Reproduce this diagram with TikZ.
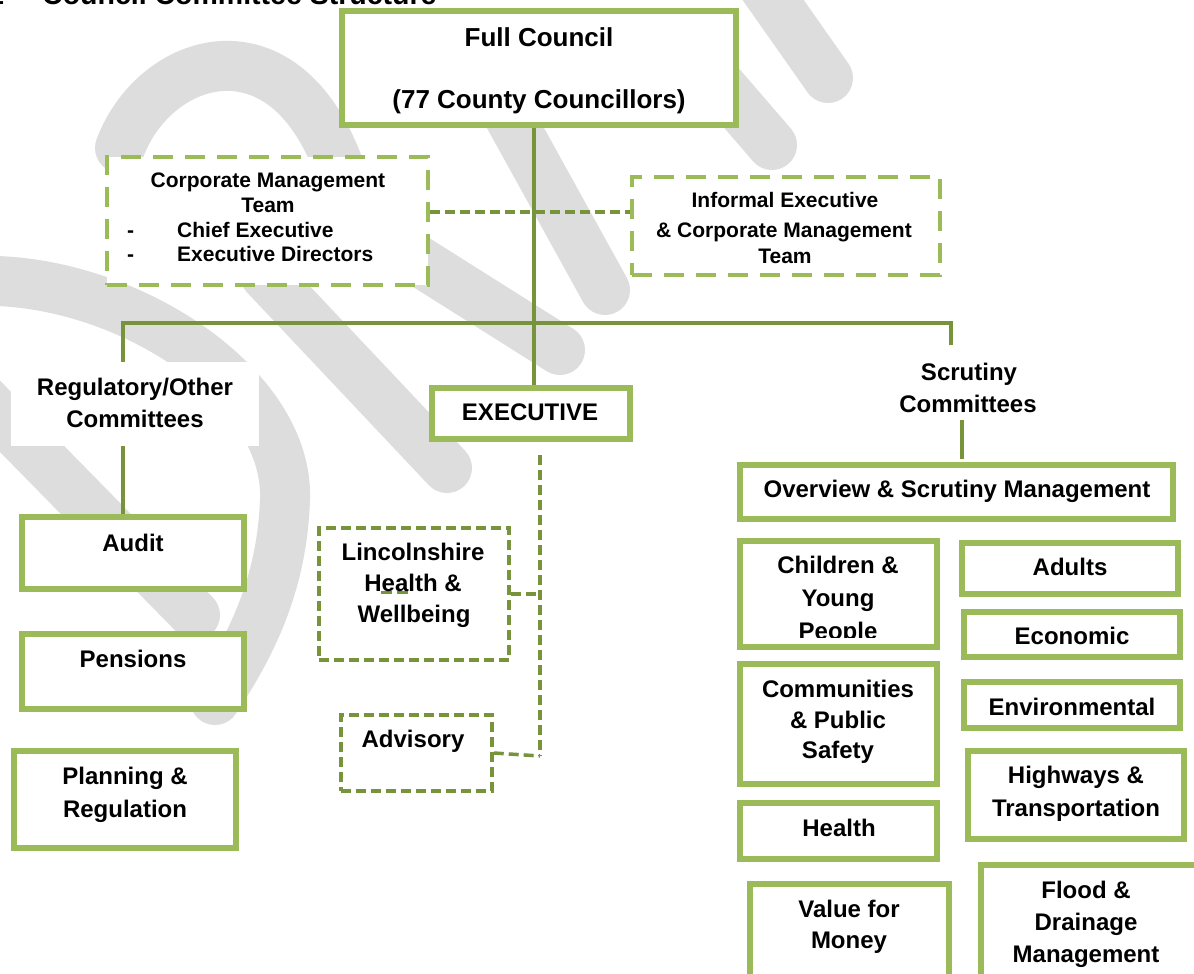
\documentclass[tikz,border=0pt]{standalone}
\usepackage{fontspec}
\setmainfont{Liberation Sans}
\usetikzlibrary{fit}
\definecolor{lg}{RGB}{155,187,89}
\definecolor{dg}{RGB}{119,147,60}
\definecolor{wmc}{RGB}{221,221,221}
\tikzset{
  box/.style={draw=lg, line width=5.5pt, fill=white, inner sep=0pt},
  dbox/.style={draw=lg, line width=4pt, fill=white, inner sep=0pt, dash pattern=on 20pt off 12pt},
  ddbox/.style={draw=dg, line width=3.5pt, fill=white, inner sep=0pt, dash pattern=on 10pt off 5pt},
  conn/.style={draw=dg, line width=4pt},
  dconn/.style={draw=dg, line width=3.5pt, dash pattern=on 10pt off 5pt},
  lbl/.style={anchor=base, inner sep=0pt, font=\fontsize{24}{28}\selectfont\bfseries},
  lbls/.style={lbl, font=\fontsize{21}{25}\selectfont\bfseries},
  lblb/.style={lbl, font=\fontsize{26}{30}\selectfont\bfseries},
  wm/.style={draw=wmc, line width=50pt, line cap=round},
}
\begin{document}
\begin{tikzpicture}[x=1pt,y=-1pt]
\useasboundingbox (0,0) rectangle (1194,974);
\fill[white] (0,0) rectangle (1194,974);
% watermark
\draw[wm] (120,148) .. controls (155,55) and (285,15) .. (340,170) -- (350,210);
\draw[wm] (330,205) -- (560,350);
\draw[wm] (500,100) -- (605,290);
\draw[wm] (265,275) -- (447,468);
\draw[wm] (745,-40) -- (828,78);
\draw[wm] (690,50) -- (772,145);
\draw[wm] (-70,345) -- (195,615);
\draw[wm] (-40,282) .. controls (110,268) and (290,380) .. (285,500) .. controls (282,580) and (255,640) .. (215,700);
% title (cut by the top edge)
\node[anchor=base west, inner sep=0pt, font=\fontsize{28.5}{32}\selectfont\bfseries] (num) at (-12,5) {1};
\node[anchor=base west, inner sep=0pt, font=\fontsize{28.5}{32}\selectfont\bfseries] (title) at (42,5) {Council Committee Structure};
% helper coordinates
\coordinate (jn) at (534,323);
\coordinate (hl) at (123,323);
\coordinate (hr) at (951,323);
\coordinate (sv) at (962,0);
\coordinate (cy) at (0,212);
\coordinate (et) at (540,455);
\coordinate (eb) at (540,756);
% white label area
\node[fill=white, inner sep=0pt, fit={(11,362) (259,446)}] (reg) {};
\node[inner sep=0pt, fit={(900,345) (1036,420)}] (scr) {};
% boxes
\node[box, fit={(342,11) (736,125)}] (fc) {};
\node[dbox, fit={(107,157) (428,285)}] (cmt) {};
\node[dbox, fit={(632,177) (940,275)}] (inf) {};
\node[box, fit={(432,388) (630,439)}] (exec) {};
% connectors
\draw[conn] (fc.south -| jn) -- (exec.north -| jn);
\draw[dconn] (cmt.east |- cy) -- (inf.west |- cy);
\draw[conn] (reg.north -| hl) -- (hl) -- (hr) -- (scr.north -| hr);
\draw[conn] (scr.south -| sv) -- (sv |- 0,459);
\draw[conn] (reg.south -| hl) -- (hl |- 0,517);
\draw[dconn] (et) -- (eb);
% left column
\node[box, fit={(22,517) (244,589)}] (audit) {};
\node[box, fit={(22,634) (244,709)}] (pens) {};
\node[box, fit={(14,751) (236,848)}] (plan) {};
% executive sub
\node[ddbox, fit={(319,528) (509,660)}] (lin) {};
\node[ddbox, fit={(341,715) (492,791)}] (adv) {};
\draw[dconn] (lin.east) -- (lin.east -| eb);
\draw[dconn] (adv.east) -- (eb);
\draw[dg, line width=3pt, dash pattern=on 11pt off 5pt] (381,592) -- (408,592);
% scrutiny
\node[box, fit={(740,465) (1173,519)}] (ovw) {};
\node[box, fit={(740,541) (937,647)}] (cyp) {};
\node[box, fit={(962,543) (1178,594)}] (adults) {};
\node[box, fit={(964,612) (1180,657)}] (econ) {};
\node[box, fit={(740,664) (937,784)}] (comm) {};
\node[box, fit={(964,682) (1180,728)}] (env) {};
\node[box, fit={(968,751) (1184,839)}] (hwy) {};
\node[box, fit={(740,803) (937,859)}] (hlth) {};
\node[box, fit={(750,884) (949,1000)}] (vfm) {};
\node[box, fit={(981,865) (1230,1000)}] (flood) {};
% texts
\node[lblb] (fc1) at (539,47) {Full Council};
\node[lblb] (fc2) at (539,108) {(77 County Councillors)};
\node[lbls] (cmt1) at (268,187) {Corporate Management};
\node[lbls] (cmt2) at (268,212) {Team};
\node[lbls, anchor=base west] (cmt3d) at (127,237) {-};
\node[lbls, anchor=base west] (cmt3) at (177,237) {Chief Executive};
\node[lbls, anchor=base west] (cmt4d) at (127,261) {-};
\node[lbls, anchor=base west] (cmt4) at (177,261) {Executive Directors};
\node[lbls] (inf1) at (785,207) {Informal Executive};
\node[lbls] (inf2) at (784,237) {\& Corporate Management};
\node[lbls] (inf3) at (785,263) {Team};
\node[lbl] (reg1) at (135,395) {Regulatory/Other};
\node[lbl] (reg2) at (135,427) {Committees};
\node[lbl] (exec1) at (530,420) {EXECUTIVE};
\node[lbl] (scr1) at (969,380) {Scrutiny};
\node[lbl] (scr2) at (968,412) {Committees};
\node[lbl] (audit1) at (133,551) {Audit};
\node[lbl] (pens1) at (133,667) {Pensions};
\node[lbl] (plan1) at (125,784) {Planning \&};
\node[lbl] (plan2) at (125,817) {Regulation};
\node[lbl] (lin1) at (413,560) {Lincolnshire};
\node[lbl] (lin2) at (413,591) {Health \&};
\node[lbl] (lin3) at (414,622) {Wellbeing};
\node[lbl] (adv1) at (413,747) {Advisory};
\node[lbl] (ovw1) at (957,497) {Overview \& Scrutiny Management};
\node[lbl] (cyp1) at (838,573) {Children \&};
\node[lbl] (cyp2) at (838,606) {Young};
\begin{scope}
\clip (740,541) rectangle (937,637);
\node[lbl] (cyp3) at (838,639) {People};
\end{scope}
\node[lbl] (adults1) at (1070,575) {Adults};
\node[lbl] (econ1) at (1072,644) {Economic};
\node[lbl] (comm1) at (838,697) {Communities};
\node[lbl] (comm2) at (838,728) {\& Public};
\node[lbl] (comm3) at (838,758) {Safety};
\node[lbl] (env1) at (1072,715) {Environmental};
\node[lbl] (hwy1) at (1076,783) {Highways \&};
\node[lbl] (hwy2) at (1076,816) {Transportation};
\node[lbl] (hlth1) at (839,836) {Health};
\node[lbl] (vfm1) at (849,917) {Value for};
\node[lbl] (vfm2) at (849,948) {Money};
\node[lbl] (flood1) at (1086,898) {Flood \&};
\node[lbl] (flood2) at (1086,930) {Drainage};
\node[lbl] (flood3) at (1086,962) {Management};
\end{tikzpicture}
\end{document}
